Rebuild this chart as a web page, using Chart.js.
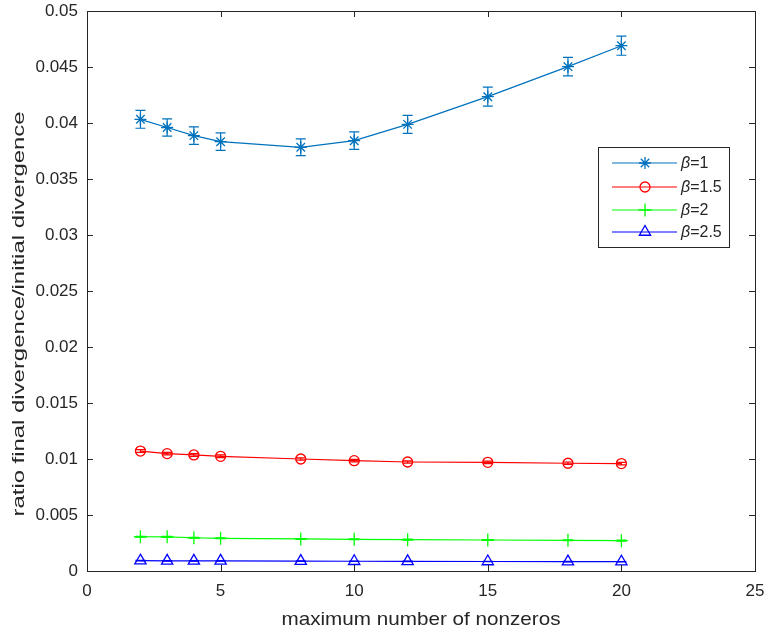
<!DOCTYPE html>
<html>
<head>
<meta charset="utf-8">
<script src="https://cdn.jsdelivr.net/npm/chart.js@4"></script>
<style>
  html, body { margin: 0; padding: 0; background: #fff; }
  #wrap { width: 767px; height: 630px; }
</style>
</head>
<body>
<div id="wrap"><canvas id="chart" width="767" height="630"></canvas></div>
<script>
// data
const nonzeros = [2, 3, 4, 5, 8, 10, 12, 15, 18, 20];

const beta1 = [0.04033, 0.0396, 0.03887, 0.03833, 0.03783, 0.03842, 0.03988, 0.04235, 0.04503, 0.0469];
const beta1Err = [0.0008, 0.00077, 0.00078, 0.00078, 0.00075, 0.00078, 0.0008, 0.00085, 0.00083, 0.00085];

const beta15 = [0.01071, 0.01048, 0.01036, 0.01024, 0.0100, 0.00985, 0.00973, 0.0097, 0.00962, 0.00959];
const beta15Err = [0.00012, 0.00012, 0.00012, 0.00012, 0.00011, 0.00011, 0.00011, 0.00011, 0.00011, 0.00011];

const beta2 = [0.00306, 0.00305, 0.00297, 0.00292, 0.00286, 0.00283, 0.0028, 0.00277, 0.00274, 0.00271];
const beta2Err = [0.00004, 0.00004, 0.00004, 0.00004, 0.00004, 0.00004, 0.00004, 0.00004, 0.00004, 0.00004];

const beta25 = [0.00092, 0.00091, 0.0009, 0.0009, 0.00088, 0.00087, 0.00086, 0.00085, 0.00084, 0.00083];
const beta25Err = [0.00002, 0.00002, 0.00002, 0.00002, 0.00002, 0.00002, 0.00002, 0.00002, 0.00002, 0.00002];

const seriesLabels = ['1', '1.5', '2', '2.5'];
const xTicks = [0, 5, 10, 15, 20, 25];
const yTicks = [0, 0.005, 0.01, 0.015, 0.02, 0.025, 0.03, 0.035, 0.04, 0.045, 0.05];
const xTitle = 'maximum number of nonzeros';
const yTitle = 'ratio final divergence/initial divergence';

const AXIS = '#262626';
const FONT = '"Liberation Sans", Arial, Helvetica, sans-serif';

function points(ys) {
    return nonzeros.map((x, i) => ({ x: x, y: ys[i] }));
}

const styles = [
    { color: '#0072BD', marker: 'star', radius: 6, err: beta1Err, ys: beta1 },
    { color: '#FF0000', marker: 'circle', radius: 5, err: beta15Err, ys: beta15 },
    { color: '#00FF00', marker: 'cross', radius: 6.5, err: beta2Err, ys: beta2 },
    { color: '#0000FF', marker: 'triangle', radius: 6.5, err: beta25Err, ys: beta25 }
];

const datasets = styles.map((s, i) => ({
    label: 'β=' + seriesLabels[i],
    data: points(s.ys),
    errors: s.err,
    borderColor: s.color,
    backgroundColor: 'rgba(0,0,0,0)',
    borderWidth: 1.2,
    pointStyle: s.marker,
    pointRadius: s.radius,
    pointBorderWidth: 1.3,
    pointBorderColor: s.color,
    pointBackgroundColor: 'rgba(0,0,0,0)',
    showLine: true,
    tension: 0
}));

// vertical error bars with caps
const errorBars = {
    id: 'errorBars',
    afterDatasetsDraw(chart) {
        const ctx = chart.ctx;
        const xs = chart.scales.x, ys = chart.scales.y;
        chart.data.datasets.forEach(ds => {
            ctx.save();
            ctx.strokeStyle = ds.borderColor;
            ctx.lineWidth = 1.2;
            ds.data.forEach((p, i) => {
                const e = ds.errors[i];
                const px = xs.getPixelForValue(p.x);
                const top = ys.getPixelForValue(p.y + e);
                const bot = ys.getPixelForValue(p.y - e);
                ctx.beginPath();
                ctx.moveTo(px, top); ctx.lineTo(px, bot);
                ctx.moveTo(px - 5, top); ctx.lineTo(px + 5, top);
                ctx.moveTo(px - 5, bot); ctx.lineTo(px + 5, bot);
                ctx.stroke();
            });
            ctx.restore();
        });
    }
};

// box around the axes with inward ticks, plus the two axis titles
const axesBox = {
    id: 'axesBox',
    afterDraw(chart) {
        const ctx = chart.ctx;
        const a = chart.chartArea;
        const xs = chart.scales.x, ys = chart.scales.y;
        const len = 6;
        ctx.save();
        ctx.strokeStyle = AXIS;
        ctx.lineWidth = 1;
        ctx.strokeRect(a.left + 0.5, a.top + 0.5, a.right - a.left, a.bottom - a.top);
        ctx.beginPath();
        xTicks.forEach(v => {
            const px = Math.round(xs.getPixelForValue(v)) + 0.5;
            ctx.moveTo(px, a.bottom); ctx.lineTo(px, a.bottom - len);
            ctx.moveTo(px, a.top); ctx.lineTo(px, a.top + len);
        });
        yTicks.forEach(v => {
            const py = Math.round(ys.getPixelForValue(v)) + 0.5;
            ctx.moveTo(a.left, py); ctx.lineTo(a.left + len, py);
            ctx.moveTo(a.right, py); ctx.lineTo(a.right - len, py);
        });
        ctx.stroke();

        // titles, stretched along the text to the width seen in the figure
        ctx.fillStyle = AXIS;
        ctx.textAlign = 'center';
        ctx.textBaseline = 'alphabetic';
        ctx.font = '19px ' + FONT;
        let w = ctx.measureText(xTitle).width;
        ctx.save();
        ctx.translate((a.left + a.right) / 2, 625);
        ctx.scale(279 / w, 1);
        ctx.fillText(xTitle, 0, 0);
        ctx.restore();

        ctx.font = '17px ' + FONT;
        w = ctx.measureText(yTitle).width;
        ctx.save();
        ctx.translate(24, 314);
        ctx.rotate(-Math.PI / 2);
        ctx.scale(405 / w, 1);
        ctx.fillText(yTitle, 0, 0);
        ctx.restore();
        ctx.restore();
    }
};

// legend box drawn inside the axes, top right
const boxLegend = {
    id: 'boxLegend',
    afterDraw(chart) {
        const ctx = chart.ctx;
        const left = 598, top = 147, w = 131, h = 100;
        ctx.save();
        ctx.fillStyle = '#fff';
        ctx.fillRect(left, top, w, h);
        ctx.strokeStyle = AXIS;
        ctx.lineWidth = 1;
        ctx.strokeRect(left + 0.5, top + 0.5, w, h);
        const rows = [163, 187, 210, 232];
        chart.data.datasets.forEach((ds, i) => {
            const y = rows[i];
            ctx.strokeStyle = ds.borderColor;
            ctx.lineWidth = 1.2;
            ctx.beginPath();
            ctx.moveTo(612, y); ctx.lineTo(677, y);
            ctx.stroke();
            ctx.lineWidth = 1.3;
            ctx.fillStyle = 'rgba(0,0,0,0)';
            Chart.helpers.drawPoint(ctx, {
                pointStyle: ds.pointStyle,
                radius: ds.pointRadius,
                borderWidth: 1.3,
                rotation: 0
            }, 645, y);
            ctx.fillStyle = AXIS;
            ctx.textBaseline = 'middle';
            ctx.font = 'italic 16px ' + FONT;
            ctx.fillText('β', 681, y + 1);
            const bw = ctx.measureText('β').width;
            ctx.font = '16px ' + FONT;
            ctx.fillText('=' + seriesLabels[i], 681 + bw, y + 1);
        });
        ctx.restore();
    }
};

new Chart(document.getElementById('chart'), {
    type: 'scatter',
    data: { datasets: datasets },
    options: {
        responsive: false,
        animation: false,
        layout: { padding: { top: 11, right: 12, bottom: 0, left: 0 } },
        plugins: {
            legend: { display: false },
            tooltip: { enabled: false }
        },
        scales: {
            x: {
                type: 'linear',
                min: 0,
                max: 25,
                afterBuildTicks: s => { s.ticks = xTicks.map(v => ({ value: v })); },
                afterFit: s => { s.height = 59; s.paddingLeft = 0; s.paddingRight = 0; },
                grid: { display: false, drawTicks: false },
                border: { display: false },
                ticks: {
                    color: AXIS,
                    font: { family: FONT, size: 17 },
                    padding: 10,
                    maxRotation: 0
                }
            },
            y: {
                type: 'linear',
                min: 0,
                max: 0.05,
                afterBuildTicks: s => { s.ticks = yTicks.map(v => ({ value: v })); },
                afterFit: s => { s.width = 87; s.paddingTop = 0; s.paddingBottom = 0; },
                grid: { display: false, drawTicks: false },
                border: { display: false },
                ticks: {
                    color: AXIS,
                    font: { family: FONT, size: 17 },
                    padding: 9,
                    callback: v => String(+v.toFixed(4))
                }
            }
        }
    },
    plugins: [errorBars, axesBox, boxLegend]
});
</script>
</body>
</html>
